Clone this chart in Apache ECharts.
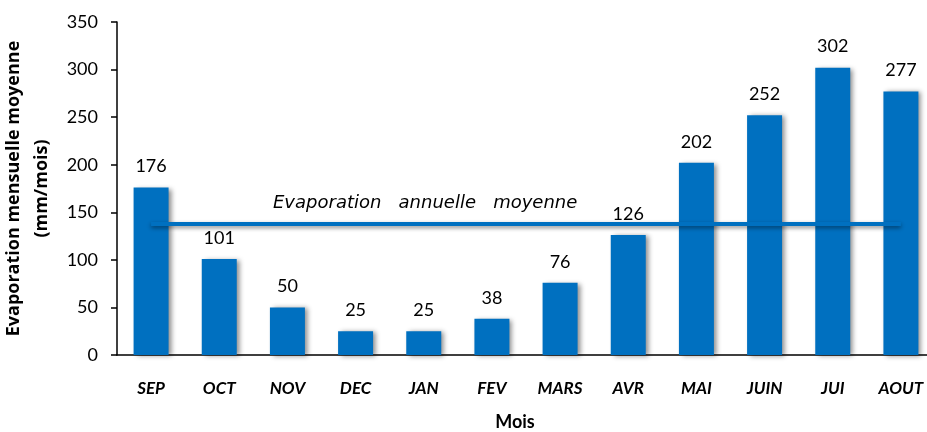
<!DOCTYPE html>
<html>
<head>
<meta charset="utf-8">
<script src="https://cdn.jsdelivr.net/npm/echarts@6/dist/echarts.min.js"></script>
<style>
    html, body { margin: 0; padding: 0; background: #fff; }
    #chart { width: 927px; height: 432px; }
</style>
</head>
<body>
<div id="chart"></div>
<script>
// mois (septembre -> aout)
var months = ["SEP", "OCT", "NOV", "DEC", "JAN", "FEV", "MARS", "AVR", "MAI", "JUIN", "JUI", "AOUT"];
// evaporation mensuelle moyenne (mm/mois)
var evaporation = [176, 101, 50, 25, 25, 38, 76, 126, 202, 252, 302, 277];
// evaporation annuelle moyenne
var meanEvap = [137.5];
var yTicks = [0, 50, 100, 150, 200, 250, 300, 350];

var blue = "#0070C0";
var font = "Lato";

var myChart = echarts.init(document.getElementById("chart"));

var option = {
    animation: false,
    textStyle: { fontFamily: font },
    grid: { left: 117, right: -8, top: 22, bottom: 77, outerBoundsMode: "none", containLabel: false },
    xAxis: {
        type: "category",
        data: months,
        name: "Mois",
        nameLocation: "middle",
        nameGap: 58,
        nameTextStyle: { fontSize: 18, fontWeight: "bold", color: "#000", padding: [0, 22, 0, 0] },
        axisLine: { lineStyle: { color: "#000", width: 1.5 } },
        axisTick: { length: 6, lineStyle: { color: "#000", width: 1.5 } },
        axisLabel: { margin: 25, fontSize: 17, fontWeight: "bold", fontStyle: "italic", color: "#000" }
    },
    yAxis: {
        type: "value",
        min: yTicks[0],
        max: yTicks[yTicks.length - 1],
        interval: 50,
        name: "Evaporation mensuelle moyenne\n(mm/mois)",
        nameLocation: "middle",
        nameGap: 47,
        nameTextStyle: { fontSize: 18, fontWeight: "bold", fontFamily: "Open Sans", color: "#000", lineHeight: 28 },
        axisLine: { show: true, lineStyle: { color: "#000", width: 1.5 } },
        axisTick: { show: true, length: 6, lineStyle: { color: "#000", width: 1.5 } },
        axisLabel: { margin: 19, fontSize: 18, color: "#000" },
        splitLine: { show: false }
    },
    series: [
        {
            type: "bar",
            data: evaporation,
            barWidth: 35,
            itemStyle: {
                color: blue,
                shadowColor: "rgba(0,0,0,0.45)",
                shadowBlur: 5,
                shadowOffsetX: 3,
                shadowOffsetY: 1
            },
            label: {
                show: true,
                position: "top",
                distance: 12,
                fontSize: 18,
                color: "#000"
            },
            markLine: {
                symbol: "none",
                silent: true,
                z: 5,
                lineStyle: {
                    color: blue,
                    width: 4,
                    type: "solid",
                    shadowColor: "rgba(0,0,0,0.45)",
                    shadowBlur: 4,
                    shadowOffsetY: 2
                },
                label: { show: false },
                data: [[
                    { coord: [months[0], meanEvap[0]] },
                    { coord: [months[months.length - 1], meanEvap[0]] }
                ]]
            }
        }
    ],
    graphic: [
        {
            type: "text",
            left: 273,
            top: 194,
            style: {
                text: "Evaporation   annuelle   moyenne",
                font: "italic 18px 'DejaVu Sans'",
                fill: "#000",
                shadowColor: "rgba(0,0,0,0.35)",
                shadowBlur: 2,
                shadowOffsetX: 1,
                shadowOffsetY: 1
            }
        }
    ]
};

myChart.setOption(option);
</script>
</body>
</html>
